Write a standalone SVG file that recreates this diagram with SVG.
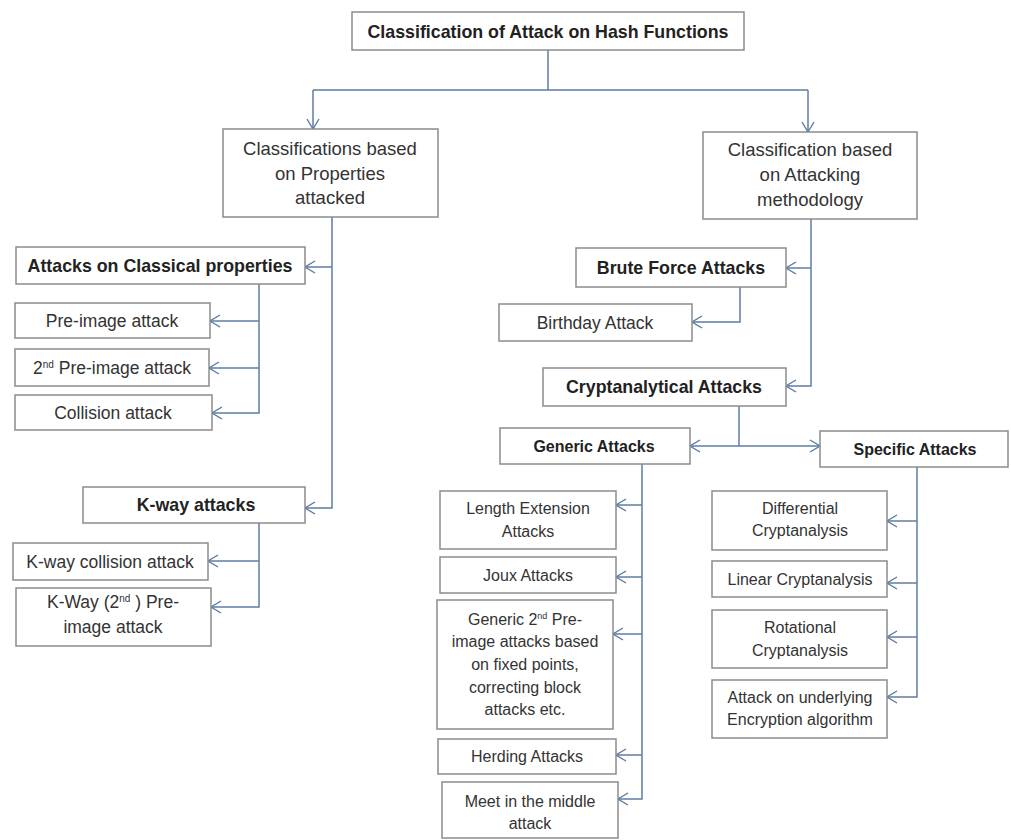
<svg xmlns="http://www.w3.org/2000/svg" width="1011" height="840" viewBox="0 0 1011 840">
<defs>
<marker id="arr" markerUnits="userSpaceOnUse" markerWidth="12" markerHeight="14" refX="11" refY="7" orient="auto">
<path d="M1,1 L11,7 L1,13" fill="none" stroke="#5a7ba3" stroke-width="1.4"/>
</marker>
</defs>
<style>
.b{fill:#fff;stroke:#8c8c8c;stroke-width:1.5}
.t{font-family:"Liberation Sans",Arial,sans-serif;font-size:16px;fill:#333;text-anchor:middle}
.m{font-size:17.5px}
.l{font-size:18.5px}
.h{font-family:"Liberation Sans",Arial,sans-serif;font-size:17.8px;font-weight:bold;fill:#222;text-anchor:middle}
.s{font-size:16px}
.c{fill:none;stroke:#5f7ea3;stroke-width:1.5}
.a{marker-end:url(#arr)}
</style>
<rect width="1011" height="840" fill="#fff"/>
<g id="connectors">
<path class="c" d="M548,50 V90 M313,90 H808"/>
<path class="c a" d="M313,90 V129"/>
<path class="c a" d="M808,90 V132"/>
<path class="c a" d="M332,217 V508 H305"/>
<path class="c a" d="M332,267 H305"/>
<path class="c a" d="M259,284 V413 H212"/>
<path class="c a" d="M259,321 H210"/>
<path class="c a" d="M259,368 H209"/>
<path class="c a" d="M259,523 V607 H211"/>
<path class="c a" d="M259,561 H208"/>
<path class="c a" d="M811,219 V386 H786"/>
<path class="c a" d="M811,268 H786"/>
<path class="c a" d="M740,287 V322 H692"/>
<path class="c" d="M739,406 V446"/>
<path class="c a" d="M739,446 H690"/>
<path class="c a" d="M739,446 H820"/>
<path class="c a" d="M642,464 V799 H618"/>
<path class="c a" d="M642,505 H616"/>
<path class="c a" d="M642,577 H616"/>
<path class="c a" d="M642,634 H613"/>
<path class="c a" d="M642,755 H616"/>
<path class="c a" d="M917,467 V697 H887"/>
<path class="c a" d="M917,521 H887"/>
<path class="c a" d="M917,583 H887"/>
<path class="c a" d="M917,637 H887"/>
</g>
<g id="root"><rect class="b" x="352" y="12" width="392" height="38"/><text class="h" x="548" y="38">Classification of Attack on Hash Functions</text></g>
<g id="props"><rect class="b" x="223" y="129" width="215" height="88"/>
<text class="t l" x="330" y="155">Classifications based</text><text class="t l" x="330" y="180">on Properties</text><text class="t l" x="330" y="204">attacked</text></g>
<g id="method"><rect class="b" x="703" y="132" width="214" height="87"/>
<text class="t l" x="810" y="156">Classification based</text><text class="t l" x="810" y="181">on Attacking</text><text class="t l" x="810" y="206">methodology</text></g>
<g id="classical"><rect class="b" x="16" y="247" width="289" height="37"/><text class="h" x="160" y="272">Attacks on Classical properties</text></g>
<g id="preimage"><rect class="b" x="15" y="303" width="195" height="35"/><text class="t m" x="112" y="327">Pre-image attack</text></g>
<g id="preimage2"><rect class="b" x="15" y="349" width="194" height="37"/><text class="t m" x="112" y="374">2<tspan font-size="10" dy="-6">nd</tspan><tspan dy="6"> Pre-image attack</tspan></text></g>
<g id="collision"><rect class="b" x="15" y="395" width="197" height="35"/><text class="t m" x="113" y="419">Collision attack</text></g>
<g id="kway"><rect class="b" x="83" y="487" width="222" height="36"/><text class="h" x="196" y="511">K-way attacks</text></g>
<g id="kwaycol"><rect class="b" x="13" y="543" width="195" height="37"/><text class="t m" x="110" y="568">K-way collision attack</text></g>
<g id="kwaypre"><rect class="b" x="16" y="588" width="195" height="58"/>
<text class="t m" x="113" y="608">K-Way (2<tspan font-size="10" dy="-6">nd</tspan><tspan dy="6"> ) Pre-</tspan></text><text class="t m" x="113" y="633">image attack</text></g>
<g id="brute"><rect class="b" x="576" y="248" width="210" height="39"/><text class="h" x="681" y="274">Brute Force Attacks</text></g>
<g id="birthday"><rect class="b" x="499" y="304" width="193" height="37"/><text class="t m" x="595" y="329">Birthday Attack</text></g>
<g id="crypt"><rect class="b" x="543" y="368" width="243" height="38"/><text class="h" x="664" y="393">Cryptanalytical Attacks</text></g>
<g id="generic"><rect class="b" x="500" y="428" width="190" height="36"/><text class="h s" x="594" y="452">Generic Attacks</text></g>
<g id="specific"><rect class="b" x="820" y="431" width="188" height="36"/><text class="h s" x="915" y="455">Specific Attacks</text></g>
<g id="length"><rect class="b" x="440" y="491" width="176" height="58"/><text class="t" x="528" y="514">Length Extension</text><text class="t" x="528" y="537">Attacks</text></g>
<g id="joux"><rect class="b" x="440" y="557" width="176" height="36"/><text class="t" x="528" y="581">Joux Attacks</text></g>
<g id="generic2"><rect class="b" x="437" y="600" width="176" height="129"/>
<text class="t" x="525" y="625">Generic 2<tspan font-size="9" dy="-6">nd</tspan><tspan dy="6"> Pre-</tspan></text>
<text class="t" x="525" y="647">image attacks based</text><text class="t" x="525" y="670">on fixed points,</text><text class="t" x="525" y="693">correcting block</text><text class="t" x="525" y="715">attacks etc.</text></g>
<g id="herding"><rect class="b" x="438" y="739" width="178" height="35"/><text class="t" x="527" y="762">Herding Attacks</text></g>
<g id="meet"><rect class="b" x="442" y="782" width="176" height="56"/><text class="t" x="530" y="807">Meet in the middle</text><text class="t" x="530" y="829">attack</text></g>
<g id="diff"><rect class="b" x="712" y="491" width="175" height="59"/><text class="t" x="800" y="514">Differential</text><text class="t" x="800" y="536">Cryptanalysis</text></g>
<g id="linear"><rect class="b" x="712" y="561" width="175" height="36"/><text class="t" x="800" y="585">Linear Cryptanalysis</text></g>
<g id="rot"><rect class="b" x="712" y="610" width="175" height="58"/><text class="t" x="800" y="633">Rotational</text><text class="t" x="800" y="656">Cryptanalysis</text></g>
<g id="enc"><rect class="b" x="712" y="680" width="175" height="58"/><text class="t" x="800" y="703">Attack on underlying</text><text class="t" x="800" y="725">Encryption algorithm</text></g>
</svg>
